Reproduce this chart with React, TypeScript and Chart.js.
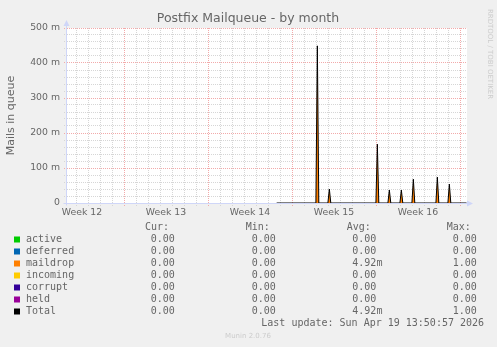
import React, { useEffect, useRef } from 'react';
import { Chart, registerables } from 'chart.js';

Chart.register(...registerables);

// ---- text ----
const chartTitle = 'Postfix Mailqueue - by month';
const yAxisTitle = 'Mails in queue';
const watermark = 'RRDTOOL / TOBI OETIKER';
const lastUpdate = 'Last update: Sun Apr 19 13:50:57 2026';
const versionText = 'Munin 2.0.76';

// ---- x axis (days since Sun 2026-03-15 00:00) ----
const viewStartDay = 2.25;
const viewEndDay = 35.58;
const weekStartDays = [0, 7, 14, 21, 28, 35];
const weekLabelDays = [3.5, 10.5, 17.5, 24.5, 31.5];
const weekLabels = ['Week 12', 'Week 13', 'Week 14', 'Week 15', 'Week 16'];

// ---- y axis ----
const yMax = 0.5;
const yMajorStep = 0.1;
const yMinorPerMajor = 5;
const yTickLabels = ['0', '100 m', '200 m', '300 m', '400 m', '500 m'];

// ---- series ----
const sampleDays = [
  19.72, 22.99, 23.11, 23.23, 23.99, 24.11, 24.23, 27.99, 28.11, 28.23, 28.99, 29.11, 29.23,
  29.99, 30.11, 30.23, 30.99, 31.11, 31.23, 32.99, 33.11, 33.23, 33.99, 34.11, 34.23, 35.54,
];
const maildropValues = [
  0, 0, 0.449, 0, 0, 0.04, 0, 0, 0.168, 0, 0, 0.037, 0,
  0, 0.037, 0, 0, 0.068, 0, 0, 0.074, 0, 0, 0.054, 0, 0,
];
const totalValues = [
  0, 0, 0.449, 0, 0, 0.04, 0, 0, 0.168, 0, 0, 0.037, 0,
  0, 0.037, 0, 0, 0.068, 0, 0, 0.074, 0, 0, 0.054, 0, 0,
];

// ---- legend table ----
const legendNames = ['active', 'deferred', 'maildrop', 'incoming', 'corrupt', 'held', 'Total'];
const legendColors = ['#00CC00', '#0066B3', '#FF8000', '#FFCC00', '#330099', '#990099', '#000000'];
const curValues = ['0.00', '0.00', '0.00', '0.00', '0.00', '0.00', '0.00'];
const minValues = ['0.00', '0.00', '0.00', '0.00', '0.00', '0.00', '0.00'];
const avgValues = ['0.00', '0.00', '4.92m', '0.00', '0.00', '0.00', '4.92m'];
const maxValues = ['0.00', '0.00', '1.00', '0.00', '0.00', '0.00', '1.00'];
const columnHeaders = ['Cur:', 'Min:', 'Avg:', 'Max:'];

const FONT_COLOR = '#666666';
const AXIS_COLOR = '#CFD6F8';
const MAJOR_GRID = '#F2AAAA';
const MINOR_GRID = '#D6D6D6';

const muninPlugin = {
  id: 'muninDecor',
  beforeDraw(chart: any) {
    const { ctx, chartArea } = chart;
    ctx.save();
    ctx.fillStyle = '#F0F0F0';
    ctx.fillRect(0, 0, chart.width, chart.height);
    ctx.fillStyle = '#FFFFFF';
    ctx.fillRect(chartArea.left, chartArea.top, chartArea.right - chartArea.left, chartArea.bottom - chartArea.top);
    ctx.restore();
  },
  beforeDatasetsDraw(chart: any) {
    const { ctx, chartArea } = chart;
    ctx.save();
    ctx.strokeStyle = AXIS_COLOR;
    ctx.fillStyle = AXIS_COLOR;
    ctx.lineWidth = 1;
    const ax = chartArea.left - 0.5;
    const ay = chartArea.bottom + 0.5;
    ctx.beginPath();
    ctx.moveTo(ax, ay + 2);
    ctx.lineTo(ax, chartArea.top - 4);
    ctx.moveTo(ax - 3, ay);
    ctx.lineTo(chartArea.right + 1, ay);
    ctx.stroke();
    // arrows
    ctx.beginPath();
    ctx.moveTo(ax - 3, chartArea.top - 2);
    ctx.lineTo(ax + 3, chartArea.top - 2);
    ctx.lineTo(ax, chartArea.top - 8);
    ctx.closePath();
    ctx.fill();
    ctx.beginPath();
    ctx.moveTo(chartArea.right, ay - 3);
    ctx.lineTo(chartArea.right, ay + 3);
    ctx.lineTo(chartArea.right + 6, ay);
    ctx.closePath();
    ctx.fill();
    ctx.restore();
  },
  afterDraw(chart: any) {
    const { ctx, chartArea } = chart;
    ctx.save();
    ctx.fillStyle = FONT_COLOR;
    // title
    ctx.font = "12.5px 'DejaVu Sans'";
    ctx.textAlign = 'center';
    ctx.textBaseline = 'middle';
    ctx.fillText(chartTitle, 248, 19);
    // y axis title
    ctx.save();
    ctx.translate(11, (chartArea.top + chartArea.bottom) / 2);
    ctx.rotate(-Math.PI / 2);
    ctx.font = "11px 'DejaVu Sans'";
    ctx.fillText(yAxisTitle, 0, 0);
    ctx.restore();
    // watermark
    ctx.save();
    ctx.translate(490, 54);
    ctx.rotate(Math.PI / 2);
    ctx.font = "7px 'DejaVu Sans'";
    ctx.fillStyle = '#CCCCCC';
    ctx.fillText(watermark, 0, 0);
    ctx.restore();

    // legend table
    ctx.font = "10px 'DejaVu Sans Mono'";
    ctx.textAlign = 'left';
    ctx.textBaseline = 'middle';
    const headerX = [145, 245.7, 346.7, 446.7];
    const valueX = [150.7, 251.7, 352.3, 452.7];
    columnHeaders.forEach((h, i) => ctx.fillText(h, headerX[i], 227.5));
    legendNames.forEach((name, i) => {
      const y = 239.5 + i * 12;
      ctx.fillStyle = legendColors[i];
      ctx.fillRect(14, y - 3, 6, 6);
      ctx.fillStyle = FONT_COLOR;
      ctx.fillText(name, 26, y);
      ctx.fillText(curValues[i], valueX[0], y);
      ctx.fillText(minValues[i], valueX[1], y);
      ctx.fillText(avgValues[i], valueX[2], y);
      ctx.fillText(maxValues[i], valueX[3], y);
    });
    ctx.fillText(lastUpdate, 261.3, 323.5);
    // version
    ctx.font = "7px 'DejaVu Sans'";
    ctx.fillStyle = '#CCCCCC';
    ctx.textAlign = 'center';
    ctx.fillText(versionText, 248, 336.5);
    ctx.restore();
  },
};

export default function App() {
  const canvasRef = useRef<HTMLCanvasElement | null>(null);

  useEffect(() => {
    if (!canvasRef.current) return;
    const chart = new Chart(canvasRef.current, {
      type: 'line',
      data: {
        datasets: [
          {
            label: 'Total',
            data: sampleDays.map((d, i) => ({ x: d, y: totalValues[i] })),
            borderColor: '#000000',
            borderWidth: 1,
            pointRadius: 0,
            fill: false,
            tension: 0,
            order: 0,
          },
          {
            label: 'maildrop',
            data: sampleDays.map((d, i) => ({ x: d, y: maildropValues[i] })),
            borderColor: '#FF8000',
            backgroundColor: '#FF8000',
            borderWidth: 0,
            pointRadius: 0,
            fill: 'origin',
            tension: 0,
            order: 1,
          },
        ],
      },
      options: {
        animation: false,
        responsive: false,
        devicePixelRatio: 1,
        layout: { padding: { left: 0, right: 30, top: 28, bottom: 0 } },
        plugins: {
          legend: { display: false },
          title: { display: false },
          tooltip: { enabled: false },
        },
        events: [],
        scales: {
          x: {
            type: 'linear',
            min: viewStartDay,
            max: viewEndDay,
            afterFit: (scale: any) => {
              scale.height = 144;
            },
            afterBuildTicks: (scale: any) => {
              const ticks: { value: number }[] = [];
              for (let d = Math.ceil(viewStartDay); d <= Math.floor(viewEndDay); d++) {
                ticks.push({ value: d });
              }
              weekLabelDays.forEach((d) => ticks.push({ value: d }));
              ticks.sort((a, b) => a.value - b.value);
              scale.ticks = ticks;
            },
            ticks: {
              autoSkip: false,
              maxRotation: 0,
              minRotation: 0,
              padding: 1,
              color: FONT_COLOR,
              font: { family: 'DejaVu Sans', size: 9.33 },
              callback: (value: any) => {
                const idx = weekLabelDays.indexOf(Number(value));
                return idx >= 0 ? weekLabels[idx] : '';
              },
            },
            grid: {
              drawOnChartArea: true,
              tickLength: 3,
              tickBorderDash: [1, 1],
              color: (ctx: any) => {
                const v = ctx.tick ? ctx.tick.value : 0;
                if (weekLabelDays.includes(v)) return 'rgba(0,0,0,0)';
                if (weekStartDays.includes(v)) return MAJOR_GRID;
                return MINOR_GRID;
              },
            },
            border: { display: false, dash: [1, 1] },
          },
          y: {
            type: 'linear',
            min: 0,
            max: yMax,
            afterFit: (scale: any) => {
              scale.width = 67;
            },
            afterBuildTicks: (scale: any) => {
              const ticks: { value: number }[] = [];
              const n = Math.round(yMax / yMajorStep) * yMinorPerMajor;
              for (let k = 0; k <= n; k++) {
                ticks.push({ value: (k * yMajorStep) / yMinorPerMajor });
              }
              scale.ticks = ticks;
            },
            ticks: {
              autoSkip: false,
              padding: 4,
              color: FONT_COLOR,
              font: { family: 'DejaVu Sans', size: 9.33 },
              callback: (value: any, index: number) => {
                if (index % yMinorPerMajor !== 0) return '';
                return yTickLabels[index / yMinorPerMajor];
              },
            },
            grid: {
              tickLength: 3,
              tickBorderDash: [1, 1],
              color: (ctx: any) => {
                const idx = ctx.index;
                if (idx === 0) return 'rgba(0,0,0,0)';
                return idx % yMinorPerMajor === 0 ? MAJOR_GRID : MINOR_GRID;
              },
            },
            border: { display: false, dash: [1, 1] },
          },
        },
      },
      plugins: [muninPlugin],
    });
    return () => chart.destroy();
  }, []);

  return (
    <div style={{ position: 'fixed', left: 0, top: 0, width: 497, height: 347, background: '#F0F0F0' }}>
      <canvas ref={canvasRef} width={497} height={347} style={{ display: 'block' }} />
    </div>
  );
}
